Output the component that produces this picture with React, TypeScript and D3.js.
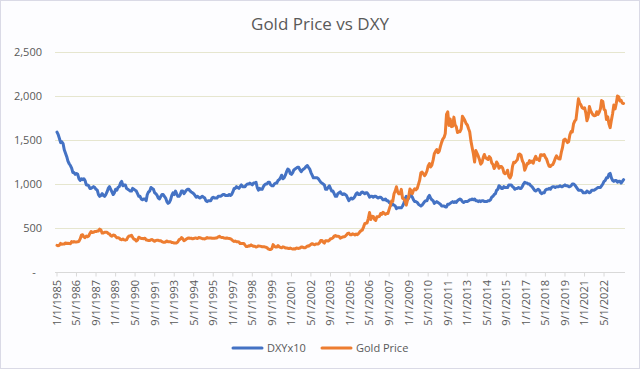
import React, { useEffect, useRef } from 'react'
import * as d3 from 'd3'

// Monthly values, Jan 1985 .. Sep 2023
const firstMonth = '1/1/1985'

const goldPrice = [
  303, 299, 304, 325, 316, 317, 317, 330, 323, 326, 325, 322,
  345, 339, 346, 340, 342, 343, 348, 376, 418, 423, 398, 391,
  408, 401, 409, 438, 460, 449, 451, 461, 460, 465, 467, 487,
  477, 442, 443, 452, 451, 452, 437, 432, 413, 406, 420, 419,
  404, 388, 390, 384, 371, 367, 375, 365, 362, 367, 394, 409,
  410, 417, 393, 374, 369, 352, 362, 395, 389, 381, 381, 378,
  384, 364, 363, 358, 357, 367, 368, 356, 349, 359, 360, 361,
  354, 354, 345, 338, 337, 341, 353, 343, 345, 344, 335, 334,
  329, 329, 330, 342, 367, 372, 392, 379, 355, 364, 374, 383,
  387, 382, 384, 377, 381, 385, 385, 380, 391, 389, 384, 379,
  379, 376, 382, 391, 385, 387, 386, 383, 383, 383, 386, 387,
  400, 405, 396, 393, 392, 385, 383, 387, 383, 381, 378, 369,
  355, 347, 352, 344, 344, 341, 324, 324, 323, 325, 306, 289,
  289, 297, 296, 308, 299, 292, 293, 284, 289, 296, 294, 291,
  287, 287, 286, 282, 277, 262, 256, 257, 265, 311, 293, 284,
  284, 300, 286, 280, 275, 286, 282, 274, 273, 270, 266, 272,
  266, 262, 263, 261, 272, 270, 268, 273, 283, 283, 276, 275,
  282, 296, 294, 302, 314, 322, 314, 310, 319, 317, 319, 333,
  357, 359, 340, 329, 355, 356, 351, 360, 379, 379, 389, 407,
  414, 405, 406, 404, 384, 392, 398, 400, 406, 420, 439, 442,
  424, 423, 434, 429, 422, 431, 424, 438, 456, 470, 476, 510,
  549, 555, 557, 610, 676, 596, 633, 632, 598, 585, 627, 629,
  631, 665, 655, 679, 667, 655, 665, 665, 712, 754, 806, 803,
  889, 922, 968, 909, 888, 889, 939, 839, 829, 806, 760, 816,
  858, 943, 924, 890, 928, 946, 934, 949, 996, 1043, 1127, 1135,
  1118, 1095, 1113, 1148, 1205, 1232, 1193, 1215, 1271, 1343, 1370, 1391,
  1356, 1372, 1424, 1473, 1510, 1529, 1572, 1790, 1820, 1665, 1739, 1652,
  1656, 1760, 1674, 1650, 1585, 1596, 1594, 1626, 1770, 1747, 1721, 1688,
  1671, 1627, 1593, 1487, 1414, 1343, 1250, 1380, 1349, 1316, 1275, 1225,
  1244, 1300, 1336, 1299, 1287, 1279, 1311, 1296, 1239, 1223, 1176, 1200,
  1251, 1227, 1179, 1198, 1199, 1181, 1128, 1117, 1125, 1157, 1086, 1068,
  1097, 1200, 1246, 1242, 1260, 1276, 1337, 1341, 1326, 1267, 1238, 1157,
  1192, 1234, 1231, 1266, 1246, 1260, 1236, 1283, 1315, 1280, 1283, 1265,
  1331, 1331, 1325, 1335, 1303, 1282, 1238, 1202, 1199, 1215, 1221, 1250,
  1291, 1320, 1300, 1286, 1284, 1359, 1413, 1500, 1510, 1495, 1471, 1480,
  1560, 1597, 1592, 1683, 1715, 1732, 1847, 1968, 1921, 1900, 1866, 1858,
  1867, 1808, 1718, 1760, 1880, 1834, 1807, 1785, 1776, 1777, 1821, 1790,
  1816, 1856, 1948, 1937, 1849, 1837, 1733, 1764, 1681, 1640, 1726, 1798,
  1898, 1854, 1912, 1999, 1991, 1943, 1951, 1918, 1916,
]

// US dollar index, plotted x10
const dxy = [
  159, 156, 152, 147, 148, 146, 139, 135, 131, 126, 123, 121,
  118, 113, 113, 111, 112, 111, 106, 104, 106, 105, 106, 104,
  99, 99, 98, 95, 95, 96, 97, 96, 94, 93, 88, 86,
  87, 89, 87, 86, 88, 91, 95, 97, 94, 91, 88, 90,
  94, 93, 96, 97, 101, 103, 98, 99, 99, 95, 94, 93,
  92, 92, 95, 94, 93, 92, 89, 86, 86, 83, 82, 83,
  83, 81, 88, 91, 92, 96, 95, 94, 90, 89, 87, 84,
  83, 86, 88, 88, 86, 84, 80, 78, 79, 82, 87, 90,
  88, 92, 89, 86, 86, 88, 92, 92, 89, 91, 93, 94,
  94, 92, 91, 90, 89, 87, 85, 86, 85, 84, 85, 86,
  85, 84, 81, 80, 81, 81, 81, 84, 85, 84, 84, 84,
  86, 86, 86, 87, 88, 88, 87, 87, 87, 88, 87, 88,
  91, 95, 95, 97, 96, 95, 97, 99, 97, 97, 97, 99,
  100, 100, 101, 100, 99, 101, 101, 102, 96, 93, 95, 94,
  94, 97, 99, 100, 100, 102, 102, 99, 98, 98, 100, 101,
  101, 104, 105, 107, 110, 106, 107, 110, 114, 117, 116, 112,
  111, 113, 116, 117, 118, 119, 119, 116, 114, 116, 117, 118,
  120, 121, 119, 117, 113, 110, 107, 107, 107, 107, 106, 104,
  102, 101, 100, 99, 94, 94, 96, 98, 95, 92, 92, 89,
  86, 86, 89, 90, 91, 89, 88, 89, 88, 87, 84, 81,
  83, 84, 83, 84, 86, 89, 90, 88, 88, 90, 91, 90,
  89, 90, 90, 88, 85, 86, 86, 85, 86, 86, 85, 84,
  85, 85, 84, 82, 82, 83, 81, 81, 79, 78, 76, 77,
  76, 75, 72, 73, 73, 73, 73, 75, 78, 83, 86, 82,
  84, 87, 87, 85, 82, 80, 80, 79, 77, 76, 75, 76,
  78, 80, 81, 81, 85, 87, 84, 82, 81, 78, 79, 80,
  79, 78, 77, 75, 75, 75, 74, 74, 77, 77, 78, 79,
  80, 79, 80, 79, 81, 82, 83, 82, 80, 79, 80, 80,
  80, 81, 82, 82, 83, 82, 83, 81, 81, 80, 81, 80,
  81, 81, 80, 80, 80, 81, 81, 82, 85, 86, 88, 89,
  93, 94, 98, 97, 95, 95, 97, 96, 96, 96, 99, 99,
  99, 97, 96, 94, 95, 95, 96, 95, 95, 97, 100, 102,
  101, 101, 100, 100, 98, 97, 95, 93, 92, 93, 94, 93,
  90, 89, 90, 90, 93, 94, 94, 95, 94, 96, 97, 97,
  96, 97, 97, 97, 98, 97, 97, 98, 99, 98, 98, 97,
  97, 98, 100, 100, 99, 97, 95, 93, 93, 93, 92, 90,
  90, 90, 92, 91, 90, 91, 93, 93, 93, 94, 95, 96,
  96, 96, 98, 100, 103, 104, 107, 107, 111, 112, 107, 104,
  103, 104, 104, 102, 103, 103, 101, 103, 105,
]

const xTickLabels = [
  '1/1/1985', '5/1/1986', '9/1/1987', '1/1/1989', '5/1/1990', '9/1/1991',
  '1/1/1993', '5/1/1994', '9/1/1995', '1/1/1997', '5/1/1998', '9/1/1999',
  '1/1/2001', '5/1/2002', '9/1/2003', '1/1/2005', '5/1/2006', '9/1/2007',
  '1/1/2009', '5/1/2010', '9/1/2011', '1/1/2013', '5/1/2014', '9/1/2015',
  '1/1/2017', '5/1/2018', '9/1/2019', '1/1/2021', '5/1/2022',
]

const yTicks = [0, 500, 1000, 1500, 2000, 2500]

const seriesNames = ['DXYx10', 'Gold Price']
const seriesColors = ['#4472C4', '#ED7D31']

const App: React.FC = () => {
  const ref = useRef<SVGSVGElement | null>(null)

  useEffect(() => {
    if (!ref.current) return

    const width = 640
    const height = 369
    const font = "'Open Sans', sans-serif"
    const textColor = '#595959'

    const parse = d3.timeParse('%m/%d/%Y')
    const start = parse(firstMonth) as Date
    const dates = goldPrice.map((_, i) => d3.timeMonth.offset(start, i))

    const x = d3
      .scaleTime()
      .domain([dates[0], dates[dates.length - 1]])
      .range([57, 623.6])
    const y = d3.scaleLinear().domain([0, 2500]).range([272, 52])

    const svg = d3
      .select(ref.current)
      .attr('width', width)
      .attr('height', height)
      .style('position', 'fixed')
      .style('left', 0)
      .style('top', 0)
      .style('font-family', font)

    svg
      .append('rect')
      .attr('x', 0.5)
      .attr('y', 0.5)
      .attr('width', width - 1)
      .attr('height', height - 1)
      .attr('fill', '#FDFDFF')
      .attr('stroke', '#DADAE6')

    // Title
    svg
      .append('text')
      .attr('x', 320)
      .attr('y', 30)
      .attr('text-anchor', 'middle')
      .attr('font-size', 17)
      .attr('fill', textColor)
      .text('Gold Price vs DXY')

    // Gridlines + y labels
    const grid = svg.append('g')
    grid
      .selectAll('line')
      .data(yTicks.filter((d) => d > 0))
      .join('line')
      .attr('x1', 55)
      .attr('x2', 625)
      .attr('y1', (d) => Math.round(y(d)) + 0.5)
      .attr('y2', (d) => Math.round(y(d)) + 0.5)
      .attr('stroke', '#E6E6CF')
      .attr('stroke-width', 1)

    const fmt = d3.format(',')
    svg
      .append('g')
      .selectAll('text')
      .data(yTicks)
      .join('text')
      .attr('x', (d) => (d === 0 ? 34 : 42))
      .attr('y', (d) => y(d))
      .attr('dy', '0.35em')
      .attr('text-anchor', (d) => (d === 0 ? 'middle' : 'end'))
      .attr('font-size', 11)
      .attr('fill', textColor)
      .text((d) => (d === 0 ? '-' : fmt(d)))

    // X axis
    const axisY = Math.round(y(0)) + 0.5
    svg
      .append('line')
      .attr('x1', 55)
      .attr('x2', 625)
      .attr('y1', axisY)
      .attr('y2', axisY)
      .attr('stroke', '#D9D9D9')

    const tickDates = xTickLabels.map((s) => parse(s) as Date)
    const xt = svg.append('g')
    xt.selectAll('line')
      .data(tickDates)
      .join('line')
      .attr('x1', (d) => x(d))
      .attr('x2', (d) => x(d))
      .attr('y1', axisY)
      .attr('y2', axisY + 4)
      .attr('stroke', '#D9D9D9')

    xt.selectAll('text')
      .data(xTickLabels)
      .join('text')
      .attr('transform', (_d, i) => `translate(${x(tickDates[i])},280) rotate(-90)`)
      .attr('dy', '0.35em')
      .attr('text-anchor', 'end')
      .attr('font-size', 11)
      .attr('fill', textColor)
      .text((d) => d)

    // Lines
    const series = [dxy.map((v) => v * 10), goldPrice]
    const line = d3
      .line<number>()
      .x((_d, i) => x(dates[i]))
      .y((d) => y(d))

    svg
      .append('g')
      .selectAll('path')
      .data(series)
      .join('path')
      .attr('d', (d) => line(d))
      .attr('fill', 'none')
      .attr('stroke', (_d, i) => seriesColors[i])
      .attr('stroke-width', 3)
      .attr('stroke-linejoin', 'round')
      .attr('stroke-linecap', 'round')

    // Legend
    const legendX = [233, 322]
    const legend = svg
      .append('g')
      .selectAll('g')
      .data(seriesNames)
      .join('g')
      .attr('transform', (_d, i) => `translate(${legendX[i]},348)`)
    legend
      .append('line')
      .attr('x1', 0)
      .attr('x2', 29)
      .attr('stroke', (_d, i) => seriesColors[i])
      .attr('stroke-width', 3)
      .attr('stroke-linecap', 'round')
    legend
      .append('text')
      .attr('x', 34)
      .attr('dy', '0.35em')
      .attr('font-size', 11)
      .attr('fill', textColor)
      .text((d) => d)

    return () => {
      svg.selectAll('*').remove()
    }
  }, [])

  return <svg ref={ref} />
}

export default App
